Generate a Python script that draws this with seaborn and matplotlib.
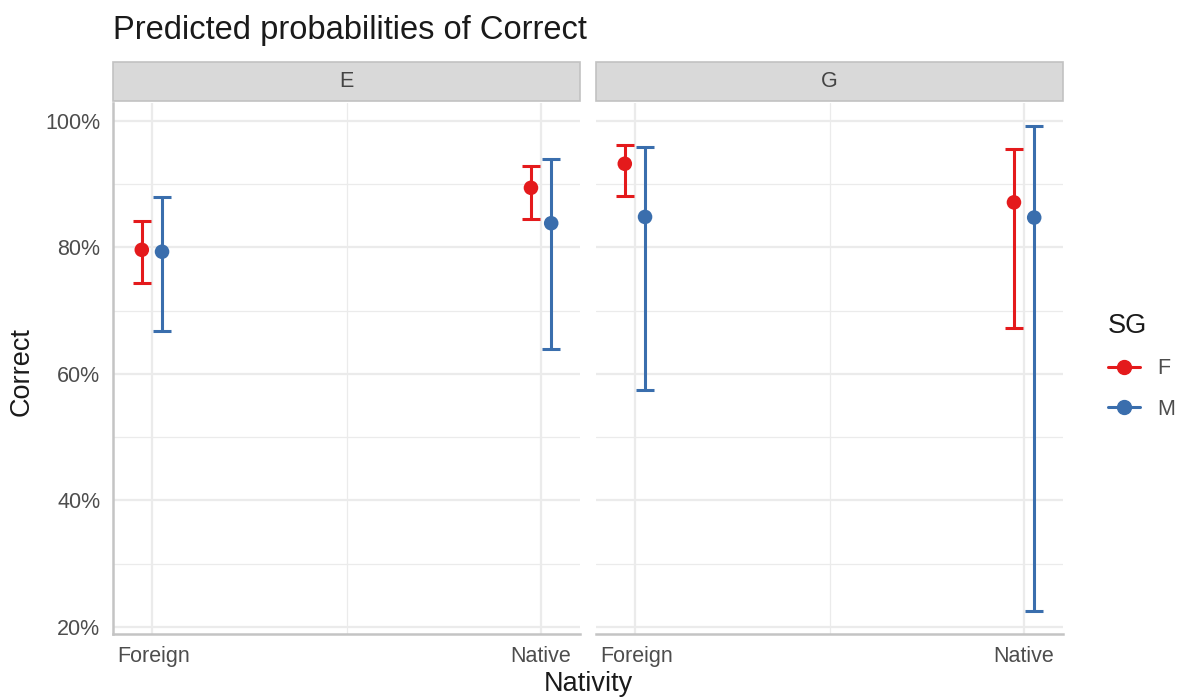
import matplotlib
matplotlib.use("Agg")
import matplotlib.pyplot as plt
import seaborn as sns
import pandas as pd
from matplotlib.lines import Line2D
from matplotlib.patches import Rectangle

# data (percent)
nativity = ["Foreign", "Native"]
panels = ["E", "G"]
groups = ["F", "M"]

pred_E_F = [79.6, 89.4]
low_E_F = [74.4, 84.5]
high_E_F = [84.1, 92.9]
pred_E_M = [79.3, 83.8]
low_E_M = [66.7, 64.0]
high_E_M = [88.0, 93.9]

pred_G_F = [93.2, 87.1]
low_G_F = [88.1, 67.3]
high_G_F = [96.2, 95.6]
pred_G_M = [84.8, 84.7]
low_G_M = [57.4, 22.5]
high_G_M = [95.9, 99.2]

colors = {"F": "#E41A1C", "M": "#3A6EAD"}

series = {
    ("E", "F"): (pred_E_F, low_E_F, high_E_F),
    ("E", "M"): (pred_E_M, low_E_M, high_E_M),
    ("G", "F"): (pred_G_F, low_G_F, high_G_F),
    ("G", "M"): (pred_G_M, low_G_M, high_G_M),
}

rows = []
for (panel, grp), (pred, low, high) in series.items():
    for i, nat in enumerate(nativity):
        rows.append({"panel": panel, "SG": grp, "Nativity": nat, "idx": i,
                     "Correct": pred[i], "low": low[i], "high": high[i]})
df = pd.DataFrame(rows)
dodge = {"F": -0.026, "M": 0.026}
df["x"] = df["idx"] + df["SG"].map(dodge)

sns.set_theme(style="white")
plt.rcParams["font.family"] = ["Liberation Sans", "DejaVu Sans"]

W, H = 1183, 698
fig = plt.figure(figsize=(W / 100, H / 100), dpi=100)

panel_left = [113, 596]
panel_w = 467
top_px, bot_px = 103, 634

grey_txt = "#4D4D4D"

for k, panel in enumerate(panels):
    ax = fig.add_axes([panel_left[k] / W, 1 - bot_px / H,
                       panel_w / W, (bot_px - top_px) / H])
    sub = df[df["panel"] == panel]

    ax.set_xlim(-0.1, 1.1)
    ax.set_ylim(18.9, 102.8)
    ax.set_yticks([20, 40, 60, 80, 100])
    ax.set_yticks([30, 50, 70, 90], minor=True)
    ax.set_xticks([0, 1])
    ax.set_xticks([0.5], minor=True)
    ax.grid(which="major", color="#EBEBEB", lw=1.6, zorder=0)
    ax.grid(which="minor", color="#EBEBEB", lw=0.9, zorder=0)
    ax.set_axisbelow(True)

    for grp in groups:
        g = sub[sub["SG"] == grp]
        ax.errorbar(g["x"], g["Correct"],
                    yerr=[g["Correct"] - g["low"], g["high"] - g["Correct"]],
                    fmt="none", ecolor=colors[grp], elinewidth=2.2,
                    capsize=6.5, capthick=2.2, zorder=2)
    sns.scatterplot(data=sub, x="x", y="Correct", hue="SG", palette=colors,
                    s=110, edgecolor="none", legend=False, ax=ax, zorder=3)

    ax.set_xlabel("")
    ax.set_ylabel("")
    ax.set_xticklabels([])
    ax.tick_params(length=0)
    if k == 0:
        ax.set_yticklabels([f"{v}%" for v in [20, 40, 60, 80, 100]])
        ax.tick_params(axis="y", labelsize=15.5, labelcolor=grey_txt, pad=9)
    else:
        ax.set_yticklabels([])

    for side in ["top", "right", "left"]:
        ax.spines[side].set_visible(False)
    ax.spines["bottom"].set_color("#C4C4C4")
    ax.spines["bottom"].set_linewidth(1.8)
    if k == 0:
        ax.spines["left"].set_visible(True)
        ax.spines["left"].set_color("#C4C4C4")
        ax.spines["left"].set_linewidth(1.8)

    # x labels sit at panel edges
    ax.text(0.009, -0.043, nativity[0], transform=ax.transAxes, ha="left",
            va="center", fontsize=15.5, color=grey_txt)
    ax.text(0.981, -0.043, nativity[1], transform=ax.transAxes, ha="right",
            va="center", fontsize=15.5, color=grey_txt)

    # facet strip
    y0 = (bot_px - 101) / (bot_px - top_px)
    y1 = (bot_px - 62) / (bot_px - top_px)
    ax.add_patch(Rectangle((0, y0), 1, y1 - y0, transform=ax.transAxes,
                           facecolor="#D9D9D9", edgecolor="#C2C2C2", lw=1.2,
                           clip_on=False))
    ax.text(0.5, (y0 + y1) / 2, panel, transform=ax.transAxes, ha="center",
            va="center", fontsize=15.5, color="#444444")

fig.text(113 / W, 1 - 31 / H, "Predicted probabilities of Correct",
         ha="left", va="center", fontsize=23.5, color="#1A1A1A")
fig.text(22 / W, 1 - 372 / H, "Correct", rotation=90, ha="center",
         va="center", fontsize=19.5, color="#1A1A1A")
fig.text(588 / W, 1 - 684 / H, "Nativity", ha="center", va="center",
         fontsize=19.5, color="#1A1A1A")

handles = [Line2D([0], [0], color=colors[g], lw=2.2, marker="o",
                  markersize=10) for g in groups]
leg = fig.legend(handles, groups, title="SG", loc="upper left",
                 bbox_to_anchor=(1108 / W, 1 - 313 / H), frameon=False,
                 fontsize=15.5, title_fontsize=19.5, handlelength=1.5,
                 handletextpad=0.8, labelspacing=0.9, borderpad=0,
                 borderaxespad=0, alignment="left")
for t in leg.get_texts():
    t.set_color(grey_txt)
leg.get_title().set_color("#1A1A1A")

fig.savefig("out.png", dpi=100)
plt.close(fig)
